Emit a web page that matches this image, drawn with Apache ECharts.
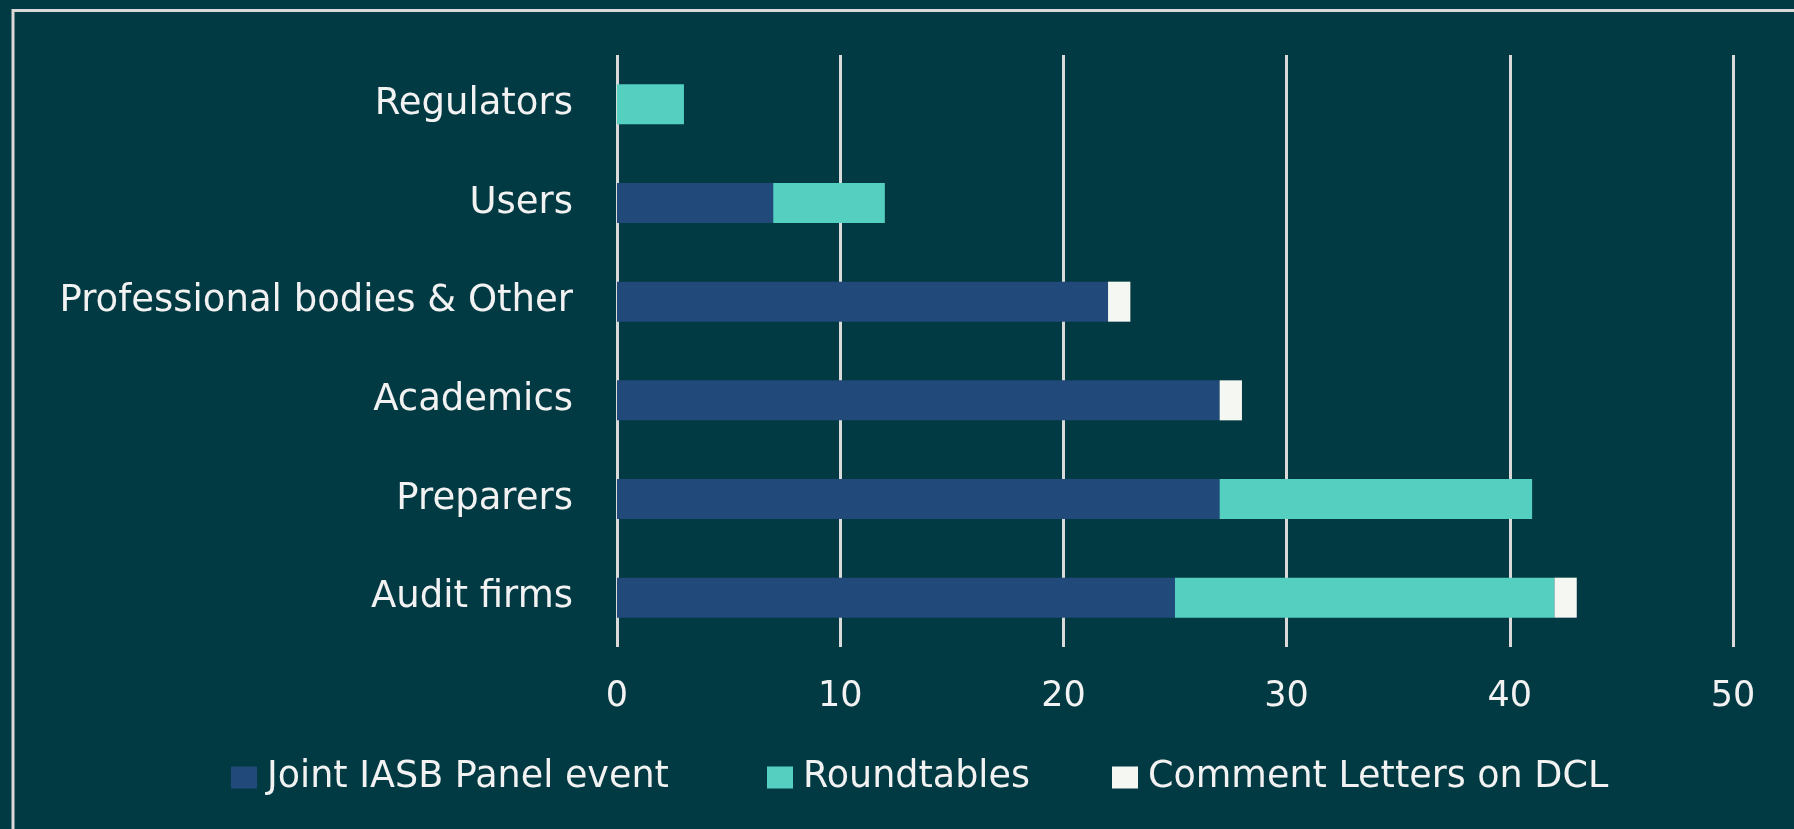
<!DOCTYPE html>
<html>
<head>
<meta charset="utf-8">
<script src="https://cdn.jsdelivr.net/npm/echarts@6/dist/echarts.min.js"></script>
<style>
  html, body { margin: 0; padding: 0; background: #023a43; }
  #chart { width: 1794px; height: 829px; }
</style>
</head>
<body>
<div id="chart"></div>
<script>
// bottom-to-top order for the category axis
const categories = ['Audit firms', 'Preparers', 'Academics', 'Professional bodies & Other', 'Users', 'Regulators']
const jointPanel = [25, 27, 27, 22, 7, 0]
const roundtables = [17, 14, 0, 0, 5, 3]
const commentLetters = [1, 0, 1, 1, 0, 0]
const seriesNames = ['Joint IASB Panel event', 'Roundtables', 'Comment Letters on DCL']
const xTicks = [0, 10, 20, 30, 40, 50]

const textColor = '#f2f2f2'
const gridColor = '#d9d9d9'
const fontFamily = '"DejaVu Sans", sans-serif'
const colors = ['#21497a', '#55cfc0', '#f5f7f2']

const chart = echarts.init(document.getElementById('chart'))

function legendAt(name, left) {
  return {
    data: [name],
    left: left,
    top: 759,
    padding: 0,
    icon: 'rect',
    itemWidth: 26,
    itemHeight: 22,
    itemGap: 0,
    textStyle: { color: textColor, fontSize: 36.5, fontFamily: fontFamily, padding: [0, 0, 0, 5] },
  }
}

chart.setOption({
  backgroundColor: '#023a43',
  animation: false,
  textStyle: { fontFamily: fontFamily },
  grid: { left: 617, right: 61, top: 55, bottom: 182 },
  legend: [
    legendAt(seriesNames[0], 231),
    legendAt(seriesNames[1], 767),
    legendAt(seriesNames[2], 1112),
  ],
  graphic: [
    {
      type: 'rect',
      shape: { x: 13, y: 10.5, width: 1850, height: 900 },
      style: { fill: 'none', stroke: gridColor, lineWidth: 3 },
      silent: true,
    },
  ],
  xAxis: {
    type: 'value',
    min: xTicks[0],
    max: xTicks[xTicks.length - 1],
    interval: 10,
    axisLine: { show: false },
    axisTick: { show: false },
    axisLabel: { color: textColor, fontSize: 35, margin: 32, fontFamily: fontFamily },
    splitLine: { show: true, lineStyle: { color: gridColor, width: 3 } },
  },
  yAxis: {
    type: 'category',
    data: categories,
    axisLine: { show: false },
    axisTick: { show: false },
    axisLabel: { color: textColor, fontSize: 37, margin: 44, fontFamily: fontFamily },
  },
  series: [
    { name: seriesNames[0], type: 'bar', stack: 'total', data: jointPanel, barWidth: 40, itemStyle: { color: colors[0] } },
    { name: seriesNames[1], type: 'bar', stack: 'total', data: roundtables, barWidth: 40, itemStyle: { color: colors[1] } },
    { name: seriesNames[2], type: 'bar', stack: 'total', data: commentLetters, barWidth: 40, itemStyle: { color: colors[2] } },
  ],
})
</script>
</body>
</html>
